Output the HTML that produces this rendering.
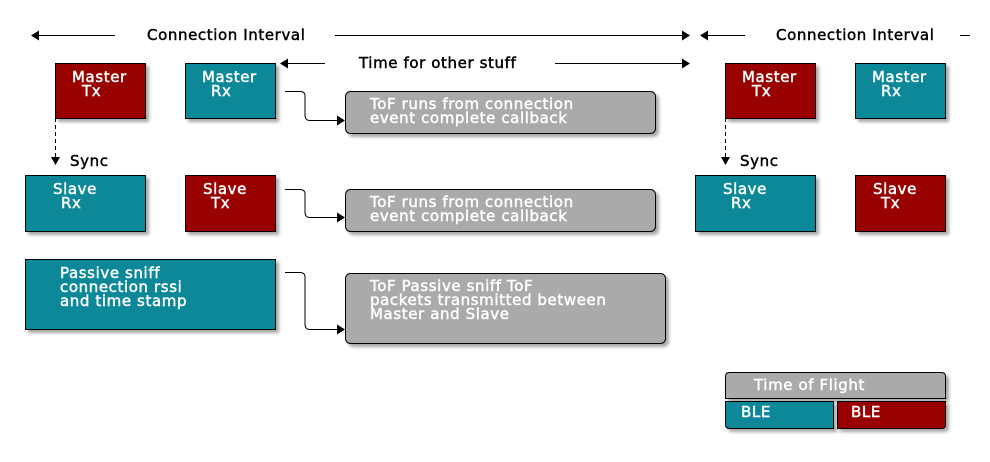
<!DOCTYPE html>
<html><head><meta charset="utf-8"><style>
html,body{margin:0;padding:0;background:#fff;}
svg{display:block;}
text{font-family:"DejaVu Sans","Liberation Sans",sans-serif;font-size:15px;font-weight:normal;letter-spacing:0.6px;}
.w{fill:#fff;}
.w text{stroke:#fff;stroke-width:0.45px;}
.k{fill:#000;stroke:#000;stroke-width:0.45px;}
</style></head><body>
<svg width="990" height="462" viewBox="0 0 990 462" xmlns="http://www.w3.org/2000/svg">
<defs>
<filter id="sh" x="-10%" y="-10%" width="130%" height="140%">
<feGaussianBlur in="SourceAlpha" stdDeviation="1.5"/>
<feOffset dx="3" dy="3" result="o"/>
<feComponentTransfer><feFuncA type="linear" slope="0.35"/></feComponentTransfer>
<feMerge><feMergeNode/><feMergeNode in="SourceGraphic"/></feMerge>
</filter>
</defs>
<g stroke="#000" stroke-width="1" fill="none">
<line x1="38" y1="35.5" x2="115" y2="35.5"/>
<line x1="335" y1="35.5" x2="683" y2="35.5"/>
<line x1="707" y1="35.5" x2="745" y2="35.5"/>
<line x1="960" y1="35.5" x2="970" y2="35.5"/>
<line x1="287" y1="63.5" x2="325" y2="63.5"/>
<line x1="555" y1="63.5" x2="683" y2="63.5"/>
<path d="M285 91.5 H300 Q305 91.5 305 96 V115 Q305 120.5 310 120.5 H338"/>
<path d="M285 189.5 H300 Q305 189.5 305 194 V212 Q305 217.5 310 217.5 H338"/>
<path d="M285 272.5 H300 Q305 272.5 305 277 V324 Q305 329.5 310 329.5 H338"/>
<line x1="55.5" y1="118" x2="55.5" y2="158" stroke-dasharray="4,3"/>
<line x1="725.5" y1="118" x2="725.5" y2="158" stroke-dasharray="4,3"/>
</g>
<g fill="#000">
<polygon points="31,35.5 39,30.5 39,40.5"/>
<polygon points="690,35.5 682,30.5 682,40.5"/>
<polygon points="700,35.5 708,30.5 708,40.5"/>
<polygon points="280,63.5 288,58.5 288,68.5"/>
<polygon points="690,63.5 682,58.5 682,68.5"/>
<polygon points="345,120.5 337,115.5 337,125.5"/>
<polygon points="345,217.5 337,212.5 337,222.5"/>
<polygon points="345,329.5 337,324.5 337,334.5"/>
<polygon points="55.5,165 51,157 60,157"/>
<polygon points="725.5,165 721,157 730,157"/>
</g>
<text x="147" y="40" class="k">Connection Interval</text>
<text x="776" y="40" class="k">Connection Interval</text>
<text x="359" y="68" class="k">Time for other stuff</text>
<text x="70" y="166" class="k">Sync</text>
<text x="740" y="166" class="k">Sync</text>
<g stroke="#000" stroke-width="1" filter="url(#sh)">
<rect x="55.5" y="63.5" width="90" height="55" fill="#990000"/>
<rect x="185.5" y="63.5" width="90" height="55" fill="#118899"/>
<rect x="25.5" y="175.5" width="120" height="56" fill="#118899"/>
<rect x="185.5" y="175.5" width="90" height="56" fill="#990000"/>
<rect x="25.5" y="259.5" width="250" height="70" fill="#118899"/>
<rect x="725.5" y="63.5" width="90" height="55" fill="#990000"/>
<rect x="855.5" y="63.5" width="90" height="55" fill="#118899"/>
<rect x="695.5" y="175.5" width="120" height="56" fill="#118899"/>
<rect x="855.5" y="175.5" width="90" height="56" fill="#990000"/>
<rect x="345.5" y="91.5" width="310" height="42" rx="5" fill="#aaaaaa"/>
<rect x="345.5" y="189.5" width="310" height="42" rx="5" fill="#aaaaaa"/>
<rect x="345.5" y="273.5" width="320" height="70" rx="5" fill="#aaaaaa"/>
<path d="M725.5 398.5 V376.5 Q725.5 372.5 729.5 372.5 H941.5 Q945.5 372.5 945.5 376.5 V398.5 Z" fill="#aaaaaa"/>
<path d="M725.5 401.5 H833.5 V428.5 H729.5 Q725.5 428.5 725.5 424.5 Z" fill="#118899"/>
<path d="M837.5 401.5 H945.5 V424.5 Q945.5 428.5 941.5 428.5 H837.5 Z" fill="#990000"/>
</g>
<g class="w">
<text x="72" y="82">Master</text><text x="82" y="96">Tx</text>
<text x="202" y="82">Master</text><text x="211" y="96">Rx</text>
<text x="53" y="194">Slave</text><text x="61" y="208">Rx</text>
<text x="203" y="194">Slave</text><text x="211" y="208">Tx</text>
<text x="60" y="278">Passive sniff</text><text x="60" y="292">connection rssi</text><text x="60" y="306">and time stamp</text>
<text x="742" y="82">Master</text><text x="752" y="96">Tx</text>
<text x="872" y="82">Master</text><text x="881" y="96">Rx</text>
<text x="723" y="194">Slave</text><text x="731" y="208">Rx</text>
<text x="873" y="194">Slave</text><text x="881" y="208">Tx</text>
<text x="370" y="109">ToF runs from connection</text><text x="370" y="123">event complete callback</text>
<text x="370" y="207">ToF runs from connection</text><text x="370" y="221">event complete callback</text>
<text x="370" y="291">ToF Passive sniff ToF</text><text x="370" y="305">packets transmitted between</text><text x="370" y="319">Master and Slave</text>
<text x="754" y="390">Time of Flight</text>
<text x="741" y="417">BLE</text>
<text x="851" y="417">BLE</text>
</g>
</svg>
</body></html>
